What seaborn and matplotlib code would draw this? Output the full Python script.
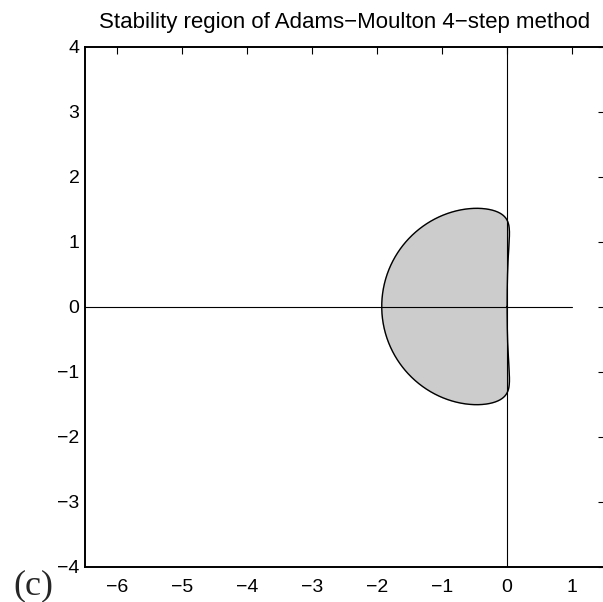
import numpy as np
import pandas as pd
import matplotlib
matplotlib.use("Agg")
import matplotlib.pyplot as plt
import seaborn as sns

sns.set_theme(style="white")
plt.rcParams['font.family'] = ['Liberation Sans', 'DejaVu Sans']

# 4-step Adams-Moulton coefficients (highest power first)
rho_coef = [1, -1, 0, 0, 0]
sigma_coef = [289, 646, -264, 106, -19]
sigma_den = 720

x_ticks = [-6, -5, -4, -3, -2, -1, 0, 1]
y_ticks = [-4, -3, -2, -1, 0, 1, 2, 3, 4]
x_lim = (-6.5, 1.5)
y_lim = (-4, 4)

# boundary locus z = rho(w)/sigma(w), w = exp(i*theta)
theta = np.linspace(0, 2 * np.pi, 1500)
w = np.exp(1j * theta)
z = np.polyval(rho_coef, w) / (np.polyval(sigma_coef, w) / sigma_den)
df = pd.DataFrame({'re': z.real, 'im': z.imag})

fig = plt.figure(figsize=(6.03, 6.02), dpi=100)
ax = fig.add_axes([85 / 603, 1 - 566.5 / 602, 519.5 / 603, 520 / 602])

ax.fill(df['re'], df['im'], color='#cccccc', zorder=1)
sns.lineplot(data=df, x='re', y='im', sort=False, estimator=None,
             color='black', linewidth=1.0, ax=ax, zorder=3)

# coordinate axes
ax.plot([x_lim[0], 1], [0, 0], color='black', linewidth=0.8, zorder=2)
ax.plot([0, 0], [y_lim[0], y_lim[1]], color='black', linewidth=0.8, zorder=2)

ax.set_xlim(*x_lim)
ax.set_ylim(*y_lim)
ax.set_xticks(x_ticks)
ax.set_yticks(y_ticks)
ax.set_xlabel('')
ax.set_ylabel('')
ax.tick_params(direction='in', length=5, width=0.8, top=True, right=True,
               labelsize=14, pad=4, colors='black')
ax.tick_params(axis='x', pad=9)
for sp in ax.spines.values():
    sp.set_color('black')
    sp.set_linewidth(1.4)

ax.set_title('Stability region of Adams\u2212Moulton 4\u2212step method',
             fontsize=16, pad=13, color='black')

fig.text(13 / 603, 1 - 602 / 602, '(c)', family='Liberation Serif',
         fontsize=26, ha='left', va='bottom')

fig.savefig('out.png', dpi=100, facecolor='white')
